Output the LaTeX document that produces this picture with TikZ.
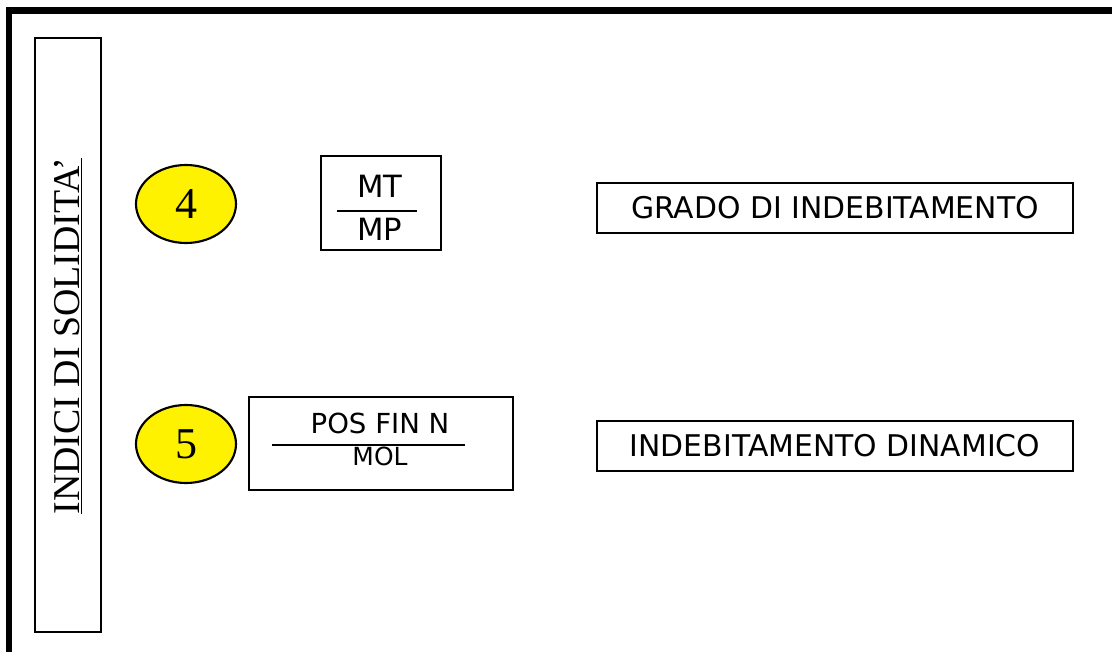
\documentclass[tikz,border=0pt]{standalone}
\usepackage{fontspec}
\setmainfont{Liberation Serif}
\newfontfamily\verd{DejaVu Sans}
\usetikzlibrary{shapes.geometric}
\tikzset{
  box/.style={draw=black, line width=1.1pt, inner sep=0pt},
  num/.style={ellipse, draw=black, line width=1.6pt, fill=yellow, minimum width=100*0.75pt, minimum height=78*0.75pt, inner sep=0pt, font=\fontsize{33}{33}\selectfont},
  lbl/.style={font=\verd\fontsize{22.4}{23}\selectfont, inner sep=0pt},
}
\begin{document}
\begin{tikzpicture}[x=0.75pt,y=-0.75pt]
\useasboundingbox (0,0) rectangle (1112,652);
% outer frame
\draw[line width=4.8pt] (9,10.5) rectangle (1130,670);
% vertical title box
\draw[box, line width=1.3pt] (35,38) rectangle (101,632);
\node[rotate=90, inner sep=0pt, font=\fontsize{28.4}{28}\selectfont] (title) at (68,336) {\underline{INDICI DI SOLIDITA’}};
% row 4
\node[num] (n4) at (186,204) {4};
\draw[box] (321,156) rectangle (441,250);
\node[font=\verd\fontsize{23}{23}\selectfont, inner sep=0pt] (mt) at (380,186) {MT};
\node[font=\verd\fontsize{23}{23}\selectfont, inner sep=0pt] (mp) at (380,229) {MP};
\draw[line width=1.1pt] (337,211) -- (417,211);
\draw[box] (597,183) rectangle (1073,233) node[midway, lbl] (g) {GRADO DI INDEBITAMENTO};
% row 5
\node[num] (n5) at (186,444) {5};
\draw[box] (249,397) rectangle (513,490);
\node[font=\verd\fontsize{20.7}{21}\selectfont, inner sep=0pt] (pos) at (380,423) {POS FIN N};
\node[font=\verd\fontsize{18.7}{20}\selectfont, inner sep=0pt] (mol) at (380,456) {MOL};
\draw[line width=1.1pt] (272,445) -- (465,445);
\draw[box] (597,421) rectangle (1073,471) node[midway, lbl] (d) {INDEBITAMENTO DINAMICO};
\end{tikzpicture}
\end{document}
